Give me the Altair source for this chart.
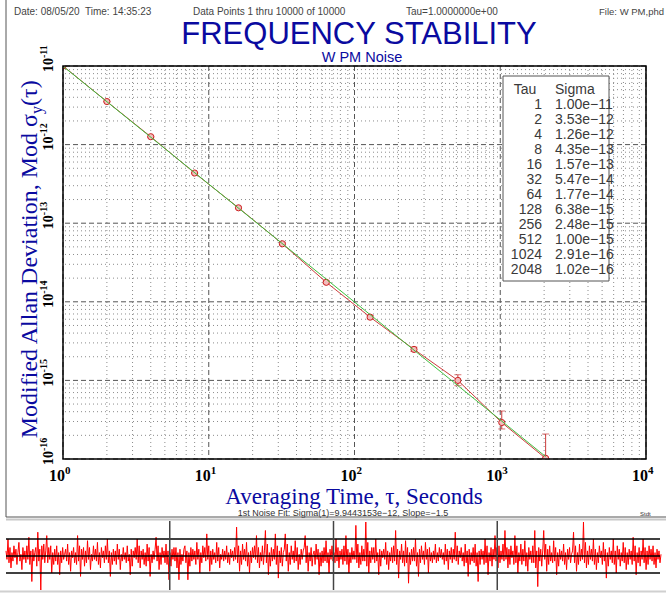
import altair as alt
import pandas as pd

# ---------------- data ----------------
tau = [1, 2, 4, 8, 16, 32, 64, 128, 256, 512, 1024, 2048]
sigma = [1.00e-11, 3.53e-12, 1.26e-12, 4.35e-13, 1.57e-13, 5.47e-14,
         1.77e-14, 6.38e-15, 2.48e-15, 1.00e-15, 2.91e-16, 1.02e-16]
sigma_lo = [9.95e-12, 3.49e-12, 1.24e-12, 4.26e-13, 1.53e-13, 5.30e-14,
            1.70e-14, 6.06e-15, 2.33e-15, 8.57e-16, 2.41e-16, 5.0e-17]
sigma_hi = [1.005e-11, 3.57e-12, 1.28e-12, 4.44e-13, 1.61e-13, 5.64e-14,
            1.84e-14, 6.70e-15, 2.65e-15, 1.18e-15, 4.08e-16, 2.08e-16]
tau_labels = ["1", "2", "4", "8", "16", "32", "64", "128", "256", "512", "1024", "2048"]
sigma_labels = ["1.00e\u221211", "3.53e\u221212", "1.26e\u221212", "4.35e\u221213",
                "1.57e\u221213", "5.47e\u221214", "1.77e\u221214", "6.38e\u221215",
                "2.48e\u221215", "1.00e\u221215", "2.91e\u221216", "1.02e\u221216"]

fit_sigma1 = 9.9443153e-12
fit_slope = -1.5
fit_tau = [1, 2048]

x_major = [1, 10, 100, 1000, 10000]
x_exp = ["0", "1", "2", "3", "4"]
y_major = [1e-16, 1e-15, 1e-14, 1e-13, 1e-12, 1e-11]
y_exp = ["-16", "-15", "-14", "-13", "-12", "-11"]
minor_mult = [2, 3, 4, 5, 6, 7, 8, 9]

# phase-data strip (units: 10 = upper black line)
noise = [
    3, -2, 10, -4, 5, -7, 2, -3, 6, -1,  4, -5, 2, 8, -3, 1, -8, 5, -2, 3,
    -4, 6, -2, 11, -5, 3, -15, 4, -3, 2,  5, -6, 14, -3, 4, -20, 6, -2, 7, -4,
    3, 12, -4, 5, -2, 6, -10, 2, -5, 4,  -3, 6, -5, 2, -11, 3, -4, 5, -2, 1,
    4, -3, 7, -5, 2, -9, 3, -1, 5, -4,  2, -5, 12, -3, 6, -12, 4, -2, 5, -6,
    3, -4, 9, -2, 5, -8, 1, -3, 6, -2,  4, -3, 8, -5, 2, -7, 5, -1, 3, -4,
    6, -2, 10, -4, 3, -12, 2, -5, 4, -3,  3, -5, 7, -2, 4, -8, 1, -3, 5, -2,
    2, -4, 6, -3, 1, -11, 4, -6, 3, -1,  5, -2, 10, -4, 6, -7, 3, -2, 4, -5,
    2, -6, 7, -3, 5, -12, 1, -4, 3, -2,  4, 11, -3, 6, -8, 2, -5, 5, -1, 3,
    -4, 7, -5, 3, -14, 2, -6, 4, -2, 5,  -3, 5, -7, 2, -14, 4, -5, 1, -3, 4,
    6, -4, 3, -14, 2, -6, 5, -3, 4, -2,  3, -5, 8, -2, 4, -10, 2, -4, 6, -1,
    5, -3, 13, -2, 6, -9, 3, -5, 4, -2,  2, -4, 8, -3, 5, -7, 1, -2, 4, -3,
    3, -2, 6, -4, 2, -5, 4, -1, 3, -3,  5, -2, 17, -4, 6, -9, 3, -5, 7, -2,
    4, -3, 8, -6, 2, -10, 3, -4, 5, -1,  6, -2, 12, -4, 5, -7, 2, -3, 6, -5,
    3, 15, -4, 7, -11, 2, -6, 5, -3, 4,  -2, 13, -5, 6, -13, 3, -4, 5, -6, 2,
    4, 13, -3, 7, -9, 2, -5, 6, -2, 3,  -4, 9, -3, 5, -8, 1, -5, 4, -2, 3,
    5, 12, -4, 6, -9, 2, -3, 5, -6, 1,  3, -5, 7, -2, 4, -11, 2, -6, 3, -4,
    5, -3, 9, -4, 2, -10, 4, -2, 6, -3,  2, -4, 10, -3, 5, -7, 3, -2, 4, -5,
    6, -3, 12, -5, 4, -10, 2, -4, 5, -2,  3, -2, 18, -4, 7, -7, 2, -5, 6, -3,
    4, -3, 20, -6, 8, -10, 3, -4, 5, -2,  5, -4, 10, -3, 2, -11, 4, -6, 3, -1,
    4, -2, 8, -5, 3, -8, 2, -3, 5, -4,  6, -3, 15, -5, 4, -13, 3, -2, 7, -4,
    3, -6, 9, -4, 5, -16, 2, -5, 4, -3,  5, -3, 10, -6, 2, -12, 4, -4, 6, -2,
    3, -5, 8, -2, 4, -10, 5, -3, 2, -4,  3, -2, 7, -4, 2, -3, 5, -1, 4, -2,
    2, -5, 7, -3, 4, -8, 3, -2, 5, -4,  4, -2, 14, -3, 6, -5, 3, -1, 5, -3,
    2, -6, 7, -4, 3, -12, 4, -5, 2, -3,  5, -4, 7, -6, 2, -15, 3, -5, 4, -2,
    3, -5, 10, -4, 6, -11, 2, -3, 5, -6,  4, -2, 12, -3, 5, -7, 6, -4, 3, -2,
    7, -3, 15, -2, 5, -7, 4, -5, 6, -1,  3, -5, 12, -4, 6, -10, 2, -3, 7, -5,
    4, -3, 9, -6, 2, -9, 5, -2, 3, -4,  6, -4, 15, -7, 3, -18, 5, -3, 4, -6,
    3, 15, -2, 7, -9, 4, -5, 6, -3, 2,  -4, 9, -3, 5, -11, 2, -6, 4, -2, 3,
    -3, 7, -5, 2, -8, 4, -2, 5, -4, 1,  3, 14, -4, 6, -9, 2, -5, 7, -3, 4,
    -2, 20, -4, 8, -7, 3, -5, 6, -2, 4,  -3, 10, -5, 4, -8, 2, -4, 6, -1, 3,
    -5, 8, -3, 4, -13, 2, -6, 5, -2, 3,  -4, 10, -5, 3, -10, 6, -2, 4, -6, 2,
    -3, 8, -4, 5, -8, 2, -5, 4, -2, 3,  -5, 11, -3, 6, -11, 2, -4, 5, -6, 3,
    -2, 10, -4, 5, -8, 3, -5, 6, -2, 4,  -3, 6, -5, 2, -7, 4, -2, 3, -4, 1,
]
n_points = 10000
strip_levels = [-10, 0, 10]
strip_marks = [2500, 5000, 7500]

# ---------------- layout ----------------
W, H = 583, 393
NAVY = "#0a0aa0"
SERIF = "Liberation Serif"
SANS = "Liberation Sans"

xs = alt.Scale(type="log", domain=[1, 10000])
ys = alt.Scale(type="log", domain=[1e-16, 1e-11])

pts = pd.DataFrame({"tau": tau, "sigma": sigma, "lo": sigma_lo, "hi": sigma_hi,
                    "tl": tau_labels, "sl": sigma_labels, "row": list(range(len(tau)))})
fit = pd.DataFrame({"tau": fit_tau, "sigma": [fit_sigma1 * t ** fit_slope for t in fit_tau]})

xminor = pd.DataFrame({"v": [m * d for d in x_major[:-1] for m in minor_mult]})
yminor = pd.DataFrame({"v": [m * d for d in y_major[:-1] for m in minor_mult]})
xmaj = pd.DataFrame({"v": x_major, "e": x_exp})
ymaj = pd.DataFrame({"v": y_major, "e": y_exp})


def X(field="tau"):
    return alt.X(f"{field}:Q", scale=xs, axis=None)


def Y(field="sigma"):
    return alt.Y(f"{field}:Q", scale=ys, axis=None)


layers = []

# grid
layers.append(alt.Chart(xminor).mark_rule(color="#8c8c8c", strokeWidth=1, strokeDash=[1, 3]).encode(x=X("v")))
layers.append(alt.Chart(yminor).mark_rule(color="#8c8c8c", strokeWidth=1, strokeDash=[1, 3]).encode(y=Y("v")))
layers.append(alt.Chart(xmaj).mark_rule(color="#555555", strokeWidth=1, strokeDash=[5, 3]).encode(x=X("v")))
layers.append(alt.Chart(ymaj).mark_rule(color="#555555", strokeWidth=1, strokeDash=[5, 3]).encode(y=Y("v")))

# data line, error bars, points, fit
layers.append(alt.Chart(pts).mark_line(color="#cc3b3b", strokeWidth=1, clip=True).encode(x=X(), y=Y()))
layers.append(alt.Chart(pts).mark_rule(color="#cc3b3b", strokeWidth=1, clip=True).encode(x=X(), y=Y("lo"), y2="hi:Q"))
layers.append(alt.Chart(pts).mark_tick(color="#cc3b3b", thickness=1, size=7, orient="horizontal", clip=True).encode(x=X(), y=Y("lo")))
layers.append(alt.Chart(pts).mark_tick(color="#cc3b3b", thickness=1, size=7, orient="horizontal", clip=True).encode(x=X(), y=Y("hi")))
layers.append(alt.Chart(pts).mark_circle(size=38, color="#f3bcbc", opacity=1, stroke="#cc2222", strokeWidth=1,
                                         clip=True).encode(x=X(), y=Y()))
layers.append(alt.Chart(fit).mark_line(color="#3fbf3f", strokeWidth=1, clip=True).encode(x=X(), y=Y()))

# plot frame
layers.append(alt.Chart(pts.head(1)).mark_rect(fill=None, stroke="black", strokeWidth=1.5).encode(
    x=alt.value(0), x2=alt.value(W), y=alt.value(0), y2=alt.value(H)))

# tick labels
layers.append(alt.Chart(xmaj).mark_text(font=SERIF, fontSize=16, fontWeight="bold", align="right",
                                        baseline="alphabetic", dx=2, color="black").encode(
    x=X("v"), y=alt.value(415), text=alt.value("10")))
layers.append(alt.Chart(xmaj).mark_text(font=SERIF, fontSize=11, fontWeight="bold", align="left",
                                        baseline="alphabetic", dx=2, color="black").encode(
    x=X("v"), y=alt.value(408), text="e:N"))
layers.append(alt.Chart(ymaj).mark_text(font=SERIF, fontSize=14, fontWeight="bold", align="left", angle=270,
                                        baseline="alphabetic", dx=-6, color="black").encode(
    y=Y("v"), x=alt.value(-10), text=alt.value("10")))
layers.append(alt.Chart(ymaj).mark_text(font=SERIF, fontSize=10, fontWeight="bold", align="left", angle=270,
                                        baseline="alphabetic", dx=8, color="black").encode(
    y=Y("v"), x=alt.value(-16), text="e:N"))


def label(txt, x, y, **kw):
    return alt.Chart(pd.DataFrame({"t": [txt]})).mark_text(**kw).encode(
        x=alt.value(x), y=alt.value(y), text="t:N")


# axis titles
layers.append(label("Averaging Time, \u03c4, Seconds", 291, 438, font=SERIF, fontSize=23, color=NAVY,
                    align="center", baseline="alphabetic"))
layers.append(label("Modified Allan Deviation, Mod \u03c3", -26, 48, font=SERIF, fontSize=24, color=NAVY,
                    align="right", baseline="alphabetic", angle=270))
layers.append(label("y", -21, 48, font=SERIF, fontSize=16, color=NAVY,
                    align="left", baseline="alphabetic", angle=270))
layers.append(label("(\u03c4)", -26, 40, font=SERIF, fontSize=24, color=NAVY,
                    align="left", baseline="alphabetic", angle=270))

# titles and header
layers.append(label("FREQUENCY STABILITY", 296, -22, font=SANS, fontSize=31, color=NAVY,
                    align="center", baseline="alphabetic"))
layers.append(label("W PM Noise", 299, -4, font=SANS, fontSize=14.5, color=NAVY,
                    align="center", baseline="alphabetic"))
hdr = dict(font=SANS, fontSize=10, color="#444444", align="left", baseline="alphabetic")
layers.append(label("Date: 08/05/20\u00a0 Time: 14:35:23", -49, -51, **hdr))
layers.append(label("Data Points 1 thru 10000 of 10000", 130, -51, **hdr))
layers.append(label("Tau=1.0000000e+00", 343, -51, **hdr))
layers.append(label("File: W PM,phd", 601, -51, font=SANS, fontSize=9.5, color="#444444", align="right",
                    baseline="alphabetic"))
layers.append(label("1st Noise Fit: Sigma(1)=9.9443153e\u221212, Slope=\u22121.5", 280, 450,
                    font=SANS, fontSize=9, color="#333333", align="center", baseline="alphabetic"))
layers.append(label("Stdt", 577, 450, font=SANS, fontSize=6, color="#333333", align="left", baseline="alphabetic"))

# legend table
layers.append(alt.Chart(pts.head(1)).mark_rect(fill="white", stroke="#555555", strokeWidth=1).encode(
    x=alt.value(440), x2=alt.value(546), y=alt.value(10), y2=alt.value(215)))
tab = dict(font=SANS, fontSize=14, color="#3a3a3a", baseline="alphabetic")
layers.append(label("Tau", 462, 28, align="center", **tab))
layers.append(label("Sigma", 492, 28, align="left", **tab))
rowy = alt.Y("row:Q", scale=alt.Scale(domain=[0, 11], range=[43, 208]), axis=None)
layers.append(alt.Chart(pts).mark_text(align="right", **tab).encode(x=alt.value(479), y=rowy, text="tl:N"))
layers.append(alt.Chart(pts).mark_text(align="left", **tab).encode(x=alt.value(492), y=rowy, text="sl:N"))

# panel borders
layers.append(alt.Chart(pts.head(1)).mark_rule(color="#555555", strokeWidth=1).encode(
    x=alt.value(-57), y=alt.value(-70), y2=alt.value(451)))
layers.append(alt.Chart(pts.head(1)).mark_rule(color="#555555", strokeWidth=1).encode(
    x=alt.value(-57), x2=alt.value(610), y=alt.value(451)))
layers.append(alt.Chart(pts.head(1)).mark_rule(color="#c8c8c8", strokeWidth=2).encode(
    x=alt.value(-57), x2=alt.value(610), y=alt.value(453.5)))
layers.append(alt.Chart(pts.head(1)).mark_rule(color="#d0d0d0", strokeWidth=2).encode(
    x=alt.value(-63), x2=alt.value(610), y=alt.value(525.5)))

# phase strip
sx = alt.Scale(domain=[0, n_points], range=[-57, 598])
sy = alt.Scale(domain=[-10, 10], range=[507, 473])
strip = pd.DataFrame({"n": [i * n_points / (len(noise) - 1) for i in range(len(noise))], "v": noise})
layers.append(alt.Chart(strip).mark_line(color="#ff0000", strokeWidth=1).encode(
    x=alt.X("n:Q", scale=sx, axis=None), y=alt.Y("v:Q", scale=sy, axis=None)))
layers.append(alt.Chart(pd.DataFrame({"v": strip_levels})).mark_rule(color="black", strokeWidth=1.5).encode(
    y=alt.Y("v:Q", scale=sy, axis=None), x=alt.value(-57), x2=alt.value(597)))
layers.append(alt.Chart(pd.DataFrame({"n": strip_marks})).mark_rule(color="#444444", strokeWidth=1.5).encode(
    x=alt.X("n:Q", scale=sx, axis=None), y=alt.value(455), y2=alt.value(524)))

chart = alt.layer(*layers).resolve_scale(x="independent", y="independent").properties(
    width=W, height=H,
    autosize=alt.AutoSizeParams(type="none"),
    padding={"left": 63, "top": 66, "right": 20, "bottom": 134},
    background="white",
).configure_view(stroke=None)

chart.save("out.html", embed_options={"renderer": "svg", "actions": False})
